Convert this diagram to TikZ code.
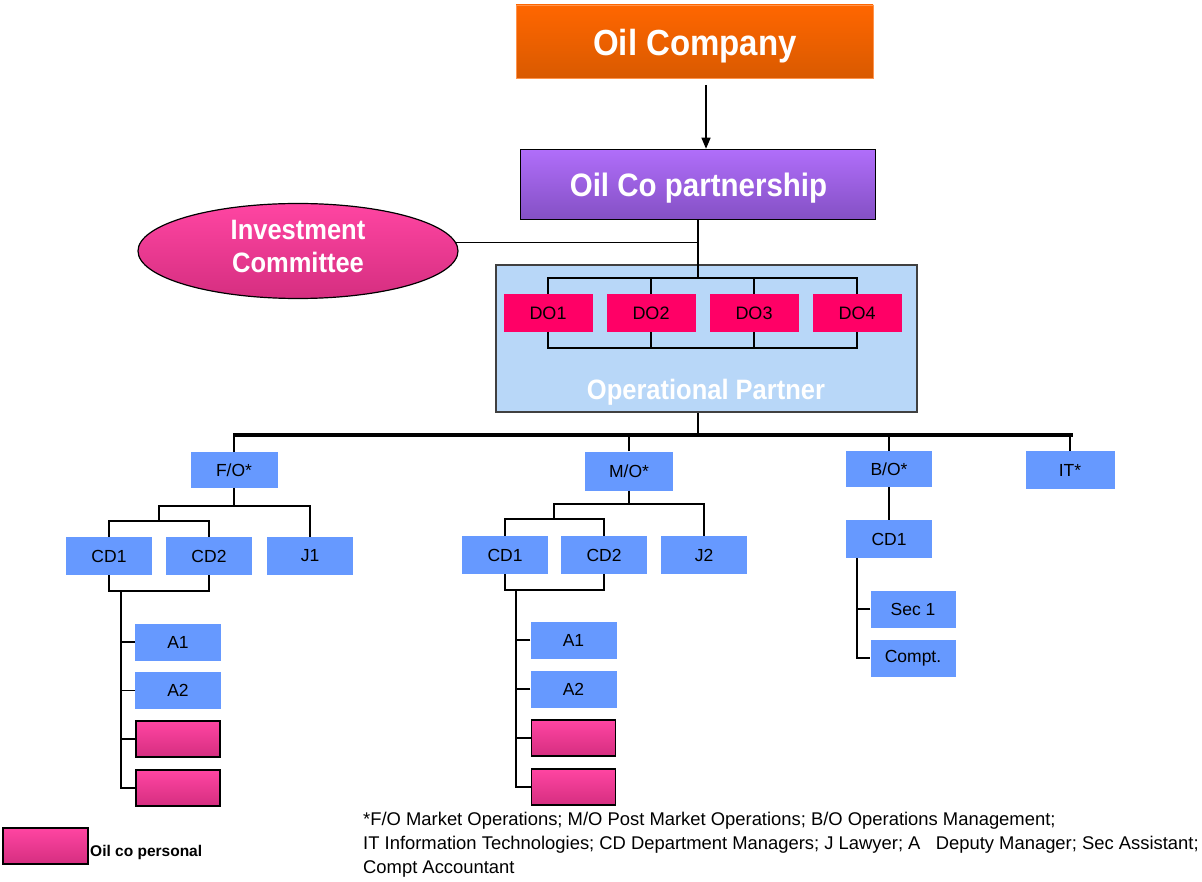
\documentclass[tikz,border=0pt]{standalone}
\usepackage{fontspec}
\usepackage{graphicx}
\setmainfont{Liberation Sans}
\usetikzlibrary{shapes.geometric,arrows.meta}
\definecolor{orangeT}{HTML}{FF6600}
\definecolor{orangeB}{HTML}{D95A00}
\definecolor{purpT}{HTML}{B06EFA}
\definecolor{purpB}{HTML}{8450C4}
\definecolor{pinkT}{HTML}{FF45A2}
\definecolor{pinkB}{HTML}{D52E80}
\definecolor{doRed}{HTML}{FF0066}
\definecolor{boxblue}{HTML}{6699FF}
\definecolor{opT}{HTML}{B8D7F8}
\definecolor{opM}{HTML}{F2F8FF}
\newcommand{\tallT}[1]{\scalebox{1}[1.1]{#1}}
\begin{document}
\begin{tikzpicture}[x=1pt,y=-1pt,
  conn/.style={line width=1.3pt, black},
  bbox/.style={fill=boxblue, inner sep=0pt, minimum width=86pt, minimum height=37pt, font=\fontsize{17.5}{20}\selectfont},
  pbox/.style={draw=black, line width=1.8pt, top color=pinkT, bottom color=pinkB, minimum width=84pt, minimum height=36pt, inner sep=0pt},
  dobox/.style={fill=doRed, inner sep=0pt, minimum width=89pt, minimum height=38pt, font=\fontsize{18}{20}\selectfont},
  arr/.style={line width=1.3pt, -{Triangle[length=11pt,width=9pt]}}
]
\useasboundingbox (0,0) rectangle (1202,882);

% top boxes
\node[draw=orangeT!70!white, line width=0.8pt, top color=orangeT, bottom color=orangeB, minimum width=357pt, minimum height=73pt, inner sep=0pt] (co) at (694.5,41.5) {};
\node[text=white, inner sep=0pt, font=\bfseries\fontsize{33}{36}\selectfont] (cot) at (695,46) {\tallT{Oil Company}};
\node[draw=black, line width=1.5pt, top color=purpT, bottom color=purpB, minimum width=355pt, minimum height=70pt, inner sep=0pt] (ps) at (698,184.5) {};
\node[text=white, inner sep=0pt, font=\bfseries\fontsize{29.5}{32}\selectfont] (pst) at (698.5,188) {\tallT{Oil Co partnership}};
\coordinate (a1) at (706,85);
\draw[arr] (a1) -- (a1 |- ps.north);

\node[ellipse, draw=black, line width=1.2pt, top color=pinkT, bottom color=pinkB, minimum width=320pt, minimum height=95pt, inner sep=0pt] (ic) at (298,251) {};
\node[align=center, text=white, inner sep=0pt, font=\bfseries\fontsize{25.5}{33}\selectfont] (ict) at (298,246) {\tallT{Investment}\\\tallT{Committee}};

% operational partner
\node[draw=black!75, line width=1.1pt, shading=axis, top color=opT, middle color=opM, bottom color=opT, minimum width=421pt, minimum height=147pt, inner sep=0pt] (op) at (706.5,338.5) {};
\node[text=white, inner sep=0pt, font=\bfseries\fontsize{25.5}{28}\selectfont] (opl) at (706,392) {\tallT{Operational Partner}};

\node[dobox] (do1) at (548,313) {DO1};
\node[dobox] (do2) at (651,313) {DO2};
\node[dobox] (do3) at (754,313) {DO3};
\node[dobox] (do4) at (857,313) {DO4};

\coordinate (dtl) at (548,278);
\coordinate (dtr) at (857,278);
\coordinate (dbl) at (548,348);
\coordinate (dbr) at (857,348);
\draw[conn] (do1.north) -- (dtl) -- (dtr) -- (do4.north);
\draw[conn] (do2.north) -- (do2.north |- dtl);
\draw[conn] (do3.north) -- (do3.north |- dtl);
\draw[conn] (do1.south) -- (dbl) -- (dbr) -- (do4.south);
\draw[conn] (do2.south) -- (do2.south |- dbl);
\draw[conn] (do3.south) -- (do3.south |- dbl);
\draw[conn] (ps.south) -- (ps.south |- dtl);
\draw[conn] (ic.3) -- (ic.3 -| ps.south);

% bus
\coordinate (busL) at (233,435);
\coordinate (busR) at (1073,435);
\draw[conn] (ps.south |- op.south) -- (ps.south |- busL);
\draw[line width=3.5pt] (busL) -- (busR);

\node[bbox, minimum width=87pt, minimum height=36pt] (fo) at (234,470) {F/O*};
\node[bbox, minimum width=88pt, minimum height=39pt] (mo) at (629,471) {M/O*};
\node[bbox, minimum width=86pt, minimum height=36pt] (bo) at (889,469) {B/O*};
\node[bbox, minimum width=89pt, minimum height=38pt] (it) at (1070,470) {IT*};
\draw[conn] (fo.north) -- (fo.north |- busL);
\draw[conn] (mo.north) -- (mo.north |- busL);
\draw[conn] (bo.north) -- (bo.north |- busL);
\draw[conn] (it.north) -- (it.north |- busL);

% F/O subtree
\node[bbox, minimum height=38pt] (fcd1) at (109,556) {CD1};
\node[bbox, minimum height=38pt] (fcd2) at (209,556) {CD2};
\node[bbox, minimum height=38pt] (fj1) at (310,556) {J1};
\coordinate (f1) at (159,506);
\coordinate (f3) at (159,521);
\coordinate (f4) at (121,591);
\draw[conn] (fo.south) -- (fo.south |- f1);
\draw[conn] (fj1.north) |- (f1) -- (f3);
\draw[conn] (fcd1.north) |- (f3) -| (fcd2.north);
\draw[conn] (fcd1.south) |- (f4) -| (fcd2.south);
\node[bbox] (fa1) at (178,642) {A1};
\node[bbox] (fa2) at (178,690.5) {A2};
\node[pbox] (fp1) at (178,739) {};
\node[pbox] (fp2) at (178,788) {};
\draw[conn] (f4) |- (fp2.west);
\draw[conn] (fa1.west) -- (fa1.west -| f4);
\draw[conn] (fa2.west) -- (fa2.west -| f4);
\draw[conn] (fp1.west) -- (fp1.west -| f4);

% M/O subtree
\node[bbox, minimum height=38pt] (mcd1) at (505,555) {CD1};
\node[bbox, minimum height=38pt] (mcd2) at (604,555) {CD2};
\node[bbox, minimum height=38pt] (mj2) at (704,555) {J2};
\coordinate (m1) at (554,504);
\coordinate (m3) at (554,519);
\coordinate (m4) at (516,590);
\draw[conn] (mo.south) -- (mo.south |- m1);
\draw[conn] (mj2.north) |- (m1) -- (m3);
\draw[conn] (mcd1.north) |- (m3) -| (mcd2.north);
\draw[conn] (mcd1.south) |- (m4) -| (mcd2.south);
\node[bbox] (ma1) at (573.5,640) {A1};
\node[bbox] (ma2) at (573.5,689) {A2};
\node[pbox] (mp1) at (573.5,738) {};
\node[pbox] (mp2) at (573.5,787) {};
\draw[conn] (m4) |- (mp2.west);
\draw[conn] (ma1.west) -- (ma1.west -| m4);
\draw[conn] (ma2.west) -- (ma2.west -| m4);
\draw[conn] (mp1.west) -- (mp1.west -| m4);

% B/O subtree
\node[bbox, minimum height=38pt] (bcd1) at (889,539) {CD1};
\draw[conn] (bo.south) -- (bcd1.north);
\node[bbox, minimum width=85pt] (bs1) at (913,609) {Sec 1};
\node[bbox, minimum width=85pt] (bcp) at (913,658) {Compt.};
\coordinate (b4) at (857,558);
\draw[conn] (b4) |- (bcp.west);
\draw[conn] (bs1.west) -- (bs1.west -| b4);

% legend
\node[pbox, minimum width=85pt, minimum height=36pt] (leg) at (45.5,846) {};
\node[anchor=west, inner sep=0pt, font=\bfseries\fontsize{15.5}{18}\selectfont] (legt) at (90,852) {Oil co personal};

% footnote
\node[anchor=west, align=left, inner sep=0pt, font=\fontsize{18.4}{24}\selectfont] (fn) at (363,845) {*F/O Market Operations; M/O Post Market Operations; B/O Operations Management;\\IT Information Technologies; CD Department Managers; J Lawyer; A\ \ \ Deputy Manager; Sec Assistant;\\Compt Accountant};
\end{tikzpicture}
\end{document}
